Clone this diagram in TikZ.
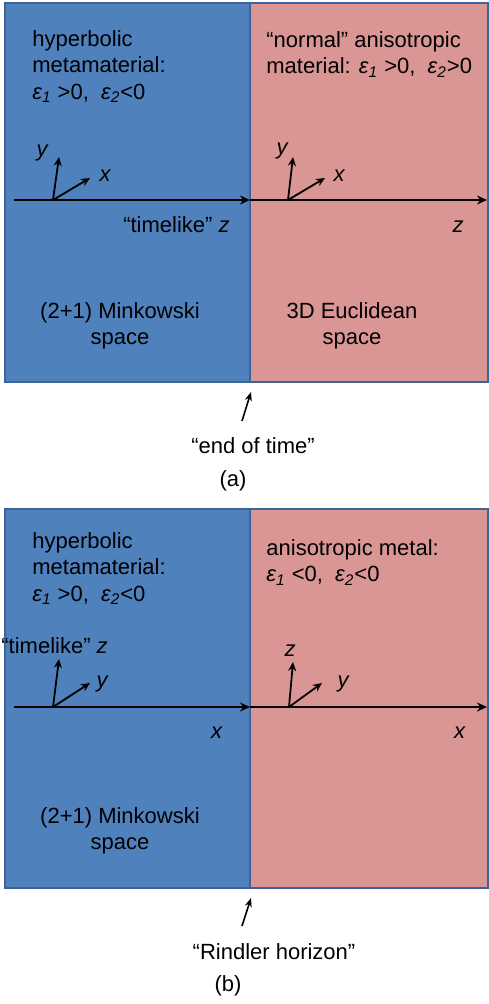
\documentclass[tikz,border=0pt]{standalone}
\usepackage{fontspec}
\setmainfont{Liberation Sans}
\usepackage{xcolor}
\usetikzlibrary{arrows.meta,positioning}
\definecolor{hypblue}{RGB}{79,129,189}
\definecolor{metpink}{RGB}{217,150,148}
\definecolor{edgeblue}{RGB}{62,100,150}
\newcommand{\epsi}[1]{\textit{ε\textsubscript{#1}}}

\begin{document}
\begin{tikzpicture}[x=0.5pt,y=-0.5pt,
    txt/.style={font=\fontsize{11}{13.3}\selectfont,inner sep=0pt,align=left},
    ctr/.style={font=\fontsize{11}{13.3}\selectfont,inner sep=0pt,align=center},
    var/.style={font=\fontsize{11}{13}\selectfont\itshape,inner sep=0pt},
    axis/.style={line width=1pt,-{Stealth[length=5pt,width=4.5pt]}},
    vec/.style={line width=0.9pt,-{Stealth[length=4.5pt,width=4pt]}},
    hint/.style={line width=0.8pt,-{Stealth[length=4.5pt,width=3.5pt]}}]
  \useasboundingbox (0,0) rectangle (488,1004);
  % ---------------- panel (a) ----------------
  \filldraw[fill=hypblue,draw=edgeblue,line width=0.6pt] (5,3) rectangle (250,382);
  \filldraw[fill=metpink,draw=edgeblue,line width=0.6pt] (250,3) rectangle (488,382);
  \node[txt,anchor=north west] (hypA) at (32,30)
    {hyperbolic\\metamaterial:\\\epsi{1} >0,\ \ \epsi{2}<0};
  \node[txt,anchor=north west] (normA) at (266,31)
    {“normal” anisotropic\\material: \epsi{1} >0,\ \ \epsi{2}>0};
  % propagation axis
  \coordinate (a0) at (14,200);
  \coordinate (a1) at (250,200);
  \coordinate (a2) at (487,200);
  \draw[axis] (a0) -- (a1);
  \draw[axis] (a1) -- (a2);
  % local frames
  \coordinate (oAl) at (53,200);
  \coordinate (yAl) at (59,157);
  \coordinate (xAl) at (90,178);
  \draw[vec] (oAl) -- (yAl);
  \draw[vec] (oAl) -- (xAl);
  \node[var] (yAlab) at (42,153) {y};
  \node[var] (xAlab) at (105,176) {x};
  \coordinate (oAr) at (288,200);
  \coordinate (yAr) at (293,157);
  \coordinate (xAr) at (325,178);
  \draw[vec] (oAr) -- (yAr);
  \draw[vec] (oAr) -- (xAr);
  \node[var] (yArlab) at (282,151) {y};
  \node[var] (xArlab) at (339,176) {x};
  % below the axis
  \node[txt,anchor=base east] (timeA) at (230,233) {“timelike” \textit{z}};
  \node[txt,anchor=base] (zA) at (458,233) {\textit{z}};
  \node[ctr,anchor=north] (minkA) at (120,302) {(2+1) Minkowski\\space};
  \node[ctr,anchor=north] (euclA) at (352,302) {3D Euclidean\\space};
  % boundary
  \node[ctr,anchor=north] (endA) at (253,437) {“end of time”};
  \node[ctr,anchor=north] (capA) at (233,470) {(a)};
  \coordinate (tailA) at (242,421);
  \coordinate (tipA) at (251,392);
  \draw[hint] (tailA) -- (tipA);
  % ---------------- panel (b) ----------------
  \filldraw[fill=hypblue,draw=edgeblue,line width=0.6pt] (5,509) rectangle (250,888);
  \filldraw[fill=metpink,draw=edgeblue,line width=0.6pt] (250,509) rectangle (488,888);
  \node[txt,anchor=north west] (hypB) at (32,532)
    {hyperbolic\\metamaterial:\\\epsi{1} >0,\ \ \epsi{2}<0};
  \node[txt,anchor=north west] (metB) at (266,539)
    {anisotropic metal:\\\epsi{1} <0,\ \ \epsi{2}<0};
  % propagation axis
  \coordinate (b0) at (14,707);
  \coordinate (b1) at (250,707);
  \coordinate (b2) at (487,707);
  \draw[axis] (b0) -- (b1);
  \draw[axis] (b1) -- (b2);
  % local frames
  \node[txt,anchor=north west] (timeB) at (1,637) {“timelike” \textit{z}};
  \coordinate (oBl) at (53,707);
  \coordinate (zBl) at (59,659);
  \coordinate (yBl) at (90,683);
  \draw[vec] (oBl) -- (zBl);
  \draw[vec] (oBl) -- (yBl);
  \node[var] (yBllab) at (102,684) {y};
  \coordinate (oBr) at (289,707);
  \coordinate (zBr) at (293,662);
  \coordinate (yBr) at (322,683);
  \draw[vec] (oBr) -- (zBr);
  \draw[vec] (oBr) -- (yBr);
  \node[var] (zBrlab) at (290,651) {z};
  \node[var] (yBrlab) at (343,684) {y};
  % below the axis
  \node[txt,anchor=base] (xBl) at (217,738) {\textit{x}};
  \node[txt,anchor=base] (xBr) at (460,738) {\textit{x}};
  \node[ctr,anchor=north] (minkB) at (120,807) {(2+1) Minkowski\\space};
  % boundary
  \node[ctr,anchor=north] (rindB) at (274,943) {“Rindler horizon”};
  \node[ctr,anchor=north] (capB) at (228,975) {(b)};
  \coordinate (tailB) at (242,926);
  \coordinate (tipB) at (251,898);
  \draw[hint] (tailB) -- (tipB);
\end{tikzpicture}
\end{document}
